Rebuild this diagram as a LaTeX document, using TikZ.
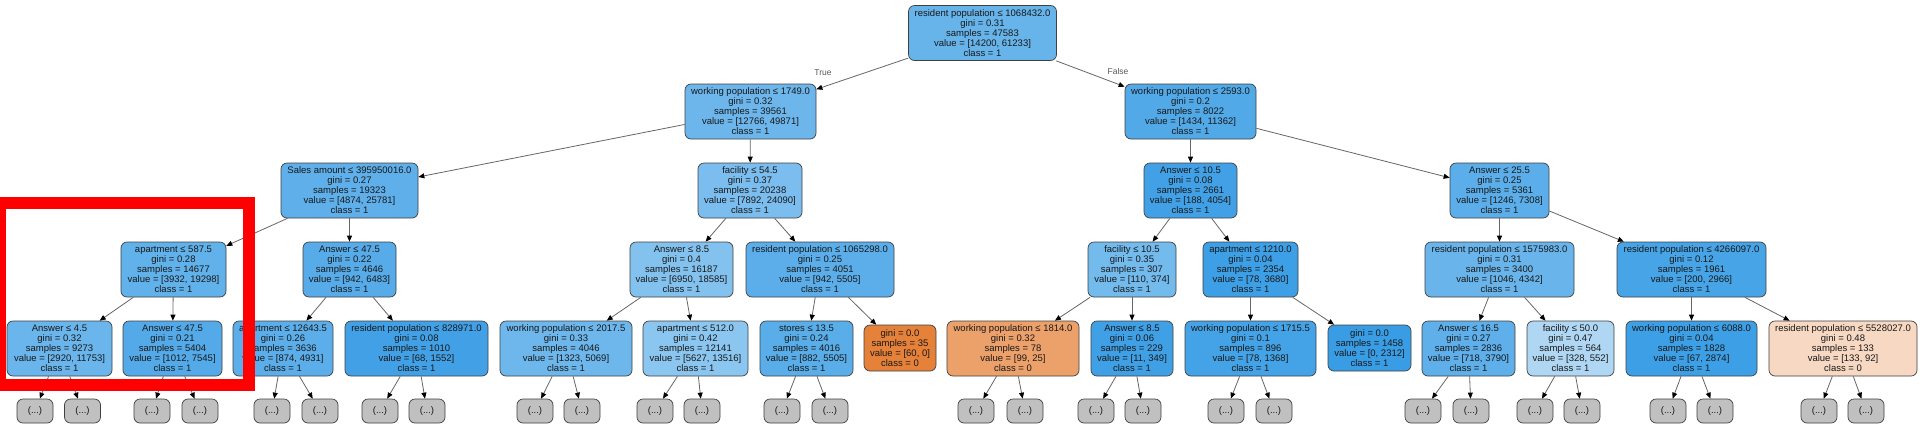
\documentclass[tikz,border=0pt]{standalone}
\usepackage{fontspec}
\setmainfont{Liberation Sans}
\usetikzlibrary{arrows.meta}
\definecolor{cRoot}{RGB}{103,180,235}
\definecolor{cL}{RGB}{108,182,236}
\definecolor{cR}{RGB}{82,169,232}
\definecolor{cSales}{RGB}{94,175,234}
\definecolor{cFacA}{RGB}{122,189,238}
\definecolor{cAnsA}{RGB}{66,161,230}
\definecolor{cAnsB}{RGB}{91,174,234}
\definecolor{cAptA}{RGB}{97,177,234}
\definecolor{cAnsC}{RGB}{86,171,232}
\definecolor{cAnsD}{RGB}{131,194,239}
\definecolor{cResA}{RGB}{91,174,234}
\definecolor{cFacB}{RGB}{115,186,237}
\definecolor{cAptB}{RGB}{61,159,229}
\definecolor{cResB}{RGB}{105,181,235}
\definecolor{cResC}{RGB}{70,164,231}
\definecolor{cAnsE}{RGB}{106,181,235}
\definecolor{cAnsF}{RGB}{84,170,233}
\definecolor{cAptC}{RGB}{92,174,234}
\definecolor{cResD}{RGB}{66,161,230}
\definecolor{cWorkA}{RGB}{109,183,236}
\definecolor{cAptD}{RGB}{139,198,240}
\definecolor{cStores}{RGB}{89,173,233}
\definecolor{cLeafO}{RGB}{229,129,57}
\definecolor{cWorkB}{RGB}{236,161,107}
\definecolor{cAnsG}{RGB}{63,160,230}
\definecolor{cWorkC}{RGB}{68,163,230}
\definecolor{cLeafB}{RGB}{57,157,229}
\definecolor{cAnsH}{RGB}{94,175,234}
\definecolor{cFacC}{RGB}{175,215,244}
\definecolor{cWorkD}{RGB}{61,159,229}
\definecolor{cResE}{RGB}{247,216,194}
\definecolor{cDots}{RGB}{192,192,192}
\definecolor{hlred}{RGB}{255,0,0}
\tikzset{
  tn/.style={rectangle, rounded corners=6pt, draw=black!75, line width=0.7pt,
    align=center, font=\fontsize{9.5}{10}\selectfont, text=black!90,
    minimum height=55pt, inner xsep=0pt, inner ysep=0pt},
  leaf/.style={tn, minimum height=46pt},
  dots/.style={rectangle, rounded corners=6pt, draw=black!75, line width=0.7pt,
    fill=cDots, font=\fontsize{9.5}{10}\selectfont, text=black!90,
    minimum width=36pt, minimum height=24pt, inner sep=0pt},
  edge/.style={draw=black!60, line width=0.8pt,
    -{Triangle[length=6pt,width=5pt,color=black]}},
  tflab/.style={font=\fontsize{8.5}{10}\selectfont, text=black!65, inner sep=0pt}
}
\begin{document}
\begin{tikzpicture}[x=1pt,y=-1pt]
\clip (0,0) rectangle (1920,440);
\useasboundingbox (0,0) rectangle (1920,440);
\fill[white] (0,0) rectangle (1920,440);
% level 0
\node[tn, fill=cRoot, minimum width=148pt] (root) at (982.5,33) {resident population ≤ 1068432.0\\gini = 0.31\\samples = 47583\\value = [14200, 61233]\\class = 1};
% level 1
\node[tn, fill=cL, minimum width=131pt] (L) at (750.5,111.5) {working population ≤ 1749.0\\gini = 0.32\\samples = 39561\\value = [12766, 49871]\\class = 1};
\node[tn, fill=cR, minimum width=131pt] (R) at (1190.5,111.5) {working population ≤ 2593.0\\gini = 0.2\\samples = 8022\\value = [1434, 11362]\\class = 1};
% level 2
\node[tn, fill=cSales, minimum width=137pt] (sales) at (349.5,190.5) {Sales amount ≤ 395950016.0\\gini = 0.27\\samples = 19323\\value = [4874, 25781]\\class = 1};
\node[tn, fill=cFacA, minimum width=104pt] (facA) at (750,190.5) {facility ≤ 54.5\\gini = 0.37\\samples = 20238\\value = [7892, 24090]\\class = 1};
\node[tn, fill=cAnsA, minimum width=93pt] (ansA) at (1190.5,190.5) {Answer ≤ 10.5\\gini = 0.08\\samples = 2661\\value = [188, 4054]\\class = 1};
\node[tn, fill=cAnsB, minimum width=99pt] (ansB) at (1499.5,190.5) {Answer ≤ 25.5\\gini = 0.25\\samples = 5361\\value = [1246, 7308]\\class = 1};
% level 3
\node[tn, fill=cAptA, minimum width=105pt] (aptA) at (173.5,269.5) {apartment ≤ 587.5\\gini = 0.28\\samples = 14677\\value = [3932, 19298]\\class = 1};
\node[tn, fill=cAnsC, minimum width=93pt] (ansC) at (349.5,269.5) {Answer ≤ 47.5\\gini = 0.22\\samples = 4646\\value = [942, 6483]\\class = 1};
\node[tn, fill=cAnsD, minimum width=103pt] (ansD) at (681.5,269.5) {Answer ≤ 8.5\\gini = 0.4\\samples = 16187\\value = [6950, 18585]\\class = 1};
\node[tn, fill=cResA, minimum width=148pt] (resA) at (820,269.5) {resident population ≤ 1065298.0\\gini = 0.25\\samples = 4051\\value = [942, 5505]\\class = 1};
\node[tn, fill=cFacB, minimum width=88pt] (facB) at (1132,269.5) {facility ≤ 10.5\\gini = 0.35\\samples = 307\\value = [110, 374]\\class = 1};
\node[tn, fill=cAptB, minimum width=95pt] (aptB) at (1250.5,269.5) {apartment ≤ 1210.0\\gini = 0.04\\samples = 2354\\value = [78, 3680]\\class = 1};
\node[tn, fill=cResB, minimum width=149pt] (resB) at (1499.5,269.5) {resident population ≤ 1575983.0\\gini = 0.31\\samples = 3400\\value = [1046, 4342]\\class = 1};
\node[tn, fill=cResC, minimum width=149pt] (resC) at (1691.5,269.5) {resident population ≤ 4266097.0\\gini = 0.12\\samples = 1961\\value = [200, 2966]\\class = 1};
% level 4
\node[tn, fill=cAnsE, minimum width=105pt] (ansE) at (59.5,348.5) {Answer ≤ 4.5\\gini = 0.32\\samples = 9273\\value = [2920, 11753]\\class = 1};
\node[tn, fill=cAnsF, minimum width=99pt] (ansF) at (172.5,348.5) {Answer ≤ 47.5\\gini = 0.21\\samples = 5404\\value = [1012, 7545]\\class = 1};
\node[tn, fill=cAptC, minimum width=100pt] (aptC) at (283,348.5) {apartment ≤ 12643.5\\gini = 0.26\\samples = 3636\\value = [874, 4931]\\class = 1};
\node[tn, fill=cResD, minimum width=143pt] (resD) at (416.5,348.5) {resident population ≤ 828971.0\\gini = 0.08\\samples = 1010\\value = [68, 1552]\\class = 1};
\node[tn, fill=cWorkA, minimum width=132pt] (workA) at (566,348.5) {working population ≤ 2017.5\\gini = 0.33\\samples = 4046\\value = [1323, 5069]\\class = 1};
\node[tn, fill=cAptD, minimum width=105pt] (aptD) at (695.5,348.5) {apartment ≤ 512.0\\gini = 0.42\\samples = 12141\\value = [5627, 13516]\\class = 1};
\node[tn, fill=cStores, minimum width=93pt] (stores) at (806.5,348.5) {stores ≤ 13.5\\gini = 0.24\\samples = 4016\\value = [882, 5505]\\class = 1};
\node[leaf, fill=cLeafO, minimum width=72pt] (leafO) at (900,348) {gini = 0.0\\samples = 35\\value = [60, 0]\\class = 0};
\node[tn, fill=cWorkB, minimum width=132pt] (workB) at (1013,348.5) {working population ≤ 1814.0\\gini = 0.32\\samples = 78\\value = [99, 25]\\class = 0};
\node[tn, fill=cAnsG, minimum width=82pt] (ansG) at (1132,348.5) {Answer ≤ 8.5\\gini = 0.06\\samples = 229\\value = [11, 349]\\class = 1};
\node[tn, fill=cWorkC, minimum width=131pt] (workC) at (1250.5,348.5) {working population ≤ 1715.5\\gini = 0.1\\samples = 896\\value = [78, 1368]\\class = 1};
\node[leaf, fill=cLeafB, minimum width=83pt] (leafB) at (1369.5,348) {gini = 0.0\\samples = 1458\\value = [0, 2312]\\class = 1};
\node[tn, fill=cAnsH, minimum width=93pt] (ansH) at (1468.5,348.5) {Answer ≤ 16.5\\gini = 0.27\\samples = 2836\\value = [718, 3790]\\class = 1};
\node[tn, fill=cFacC, minimum width=87pt] (facC) at (1570.5,348.5) {facility ≤ 50.0\\gini = 0.47\\samples = 564\\value = [328, 552]\\class = 1};
\node[tn, fill=cWorkD, minimum width=131pt] (workD) at (1691.5,348.5) {working population ≤ 6088.0\\gini = 0.04\\samples = 1828\\value = [67, 2874]\\class = 1};
\node[tn, fill=cResE, minimum width=148pt] (resE) at (1843,348.5) {resident population ≤ 5528027.0\\gini = 0.48\\samples = 133\\value = [133, 92]\\class = 0};
% level 5 (truncated)
\node[dots] (d1) at (35,411) {(...)};
\node[dots] (d2) at (82.5,411) {(...)};
\node[dots] (d3) at (152,411) {(...)};
\node[dots] (d4) at (200,411) {(...)};
\node[dots] (d5) at (272,411) {(...)};
\node[dots] (d6) at (320,411) {(...)};
\node[dots] (d7) at (380,411) {(...)};
\node[dots] (d8) at (427,411) {(...)};
\node[dots] (d9) at (535,411) {(...)};
\node[dots] (d10) at (582,411) {(...)};
\node[dots] (d11) at (655,411) {(...)};
\node[dots] (d12) at (702,411) {(...)};
\node[dots] (d13) at (782,411) {(...)};
\node[dots] (d14) at (830,411) {(...)};
\node[dots] (d15) at (976,411) {(...)};
\node[dots] (d16) at (1025,411) {(...)};
\node[dots] (d17) at (1096,411) {(...)};
\node[dots] (d18) at (1143,411) {(...)};
\node[dots] (d19) at (1226,411) {(...)};
\node[dots] (d20) at (1274,411) {(...)};
\node[dots] (d21) at (1423,411) {(...)};
\node[dots] (d22) at (1471,411) {(...)};
\node[dots] (d23) at (1535,411) {(...)};
\node[dots] (d24) at (1582,411) {(...)};
\node[dots] (d25) at (1668,411) {(...)};
\node[dots] (d26) at (1715,411) {(...)};
\node[dots] (d27) at (1819,411) {(...)};
\node[dots] (d28) at (1866,411) {(...)};
% edges
\draw[edge] (root) -- (L);
\draw[edge] (root) -- (R);
\node[tflab] (tlab) at (823,73) {True};
\node[tflab] (flab) at (1118,71) {False};
\draw[edge] (L) -- (sales);
\draw[edge] (L) -- (facA);
\draw[edge] (R) -- (ansA);
\draw[edge] (R) -- (ansB);
\draw[edge] (sales) -- (aptA);
\draw[edge] (sales) -- (ansC);
\draw[edge] (facA) -- (ansD);
\draw[edge] (facA) -- (resA);
\draw[edge] (ansA) -- (facB);
\draw[edge] (ansA) -- (aptB);
\draw[edge] (ansB) -- (resB);
\draw[edge] (ansB) -- (resC);
\draw[edge] (aptA) -- (ansE);
\draw[edge] (aptA) -- (ansF);
\draw[edge] (ansC) -- (aptC);
\draw[edge] (ansC) -- (resD);
\draw[edge] (ansD) -- (workA);
\draw[edge] (ansD) -- (aptD);
\draw[edge] (resA) -- (stores);
\draw[edge] (resA) -- (leafO);
\draw[edge] (facB) -- (workB);
\draw[edge] (facB) -- (ansG);
\draw[edge] (aptB) -- (workC);
\draw[edge] (aptB) -- (leafB);
\draw[edge] (resB) -- (ansH);
\draw[edge] (resB) -- (facC);
\draw[edge] (resC) -- (workD);
\draw[edge] (resC) -- (resE);
\draw[edge] (ansE) -- (d1);
\draw[edge] (ansE) -- (d2);
\draw[edge] (ansF) -- (d3);
\draw[edge] (ansF) -- (d4);
\draw[edge] (aptC) -- (d5);
\draw[edge] (aptC) -- (d6);
\draw[edge] (resD) -- (d7);
\draw[edge] (resD) -- (d8);
\draw[edge] (workA) -- (d9);
\draw[edge] (workA) -- (d10);
\draw[edge] (aptD) -- (d11);
\draw[edge] (aptD) -- (d12);
\draw[edge] (stores) -- (d13);
\draw[edge] (stores) -- (d14);
\draw[edge] (workB) -- (d15);
\draw[edge] (workB) -- (d16);
\draw[edge] (ansG) -- (d17);
\draw[edge] (ansG) -- (d18);
\draw[edge] (workC) -- (d19);
\draw[edge] (workC) -- (d20);
\draw[edge] (ansH) -- (d21);
\draw[edge] (ansH) -- (d22);
\draw[edge] (facC) -- (d23);
\draw[edge] (facC) -- (d24);
\draw[edge] (workD) -- (d25);
\draw[edge] (workD) -- (d26);
\draw[edge] (resE) -- (d27);
\draw[edge] (resE) -- (d28);
% highlight
\draw[hlred, line width=12pt] (0,203) rectangle (249,385);
\end{tikzpicture}
\end{document}
